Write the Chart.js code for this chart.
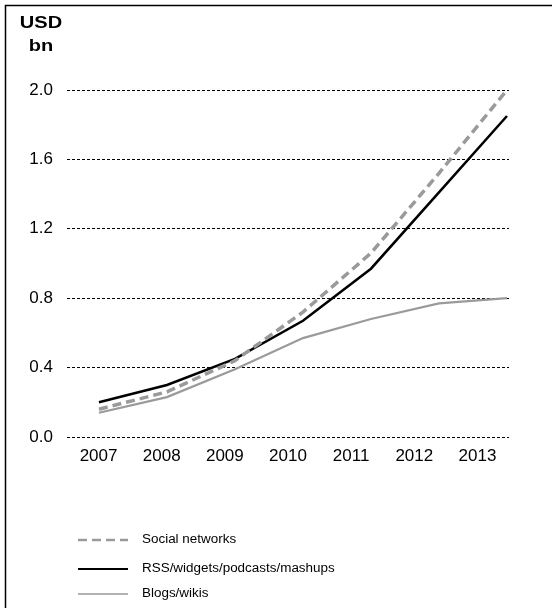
<!DOCTYPE html>
<html>
<head>
<meta charset="utf-8">
<script src="https://cdn.jsdelivr.net/npm/chart.js@4"></script>
<style>
  html, body { margin: 0; padding: 0; background: #fff; }
  #wrap { width: 552px; height: 608px; position: relative; }
</style>
</head>
<body>
<div id="wrap"><canvas id="chart" width="552" height="608"></canvas></div>
<script>
// values (USD bn)
const years = [2007, 2008, 2009, 2010, 2011, 2012, 2013];
const yearLabels = ['2007', '2008', '2009', '2010', '2011', '2012', '2013'];
const socialNetworks = [0.16, 0.26, 0.44, 0.72, 1.06, 1.52, 2.0];
const rssWidgets = [0.20, 0.30, 0.45, 0.67, 0.97, 1.41, 1.85];
const blogsWikis = [0.14, 0.23, 0.39, 0.57, 0.68, 0.77, 0.80];
const yTicks = [0.0, 0.4, 0.8, 1.2, 1.6, 2.0];

const FONT = '"Liberation Sans", Arial, sans-serif';

function toPoints(vals) {
    return vals.map((v, i) => ({ x: years[i], y: v }));
}

// text drawn a bit wider, like the original
function wideText(ctx, txt, x, y, sx) {
    ctx.save();
    ctx.translate(x, y);
    ctx.scale(sx, 1);
    ctx.fillText(txt, 0, 0);
    ctx.restore();
}

// frame, unit title and legend list
const extras = {
    id: 'extras',
    afterDraw(chart) {
        const ctx = chart.ctx;
        ctx.save();
        ctx.strokeStyle = '#000';
        ctx.lineWidth = 1.5;
        ctx.beginPath();
        ctx.moveTo(5.5, 608);
        ctx.lineTo(5.5, 5.5);
        ctx.lineTo(552, 5.5);
        ctx.stroke();

        ctx.fillStyle = '#000';
        ctx.font = 'bold 17px ' + FONT;
        ctx.textAlign = 'center';
        ctx.textBaseline = 'middle';
        wideText(ctx, 'USD', 41, 23, 1.18);
        wideText(ctx, 'bn', 41, 46, 1.18);

        ctx.font = '12px ' + FONT;
        ctx.textAlign = 'left';
        const rows = [540, 569, 594];
        chart.data.datasets.forEach((ds, i) => {
            const y = rows[i];
            ctx.strokeStyle = ds.borderColor;
            ctx.lineWidth = ds.legendWidth;
            ctx.setLineDash(ds.borderDash || []);
            ctx.beginPath();
            ctx.moveTo(78, y);
            ctx.lineTo(128, y);
            ctx.stroke();
            ctx.setLineDash([]);
            ctx.fillStyle = '#000';
            wideText(ctx, ds.label, 142, y, 1.12);
        });
        ctx.restore();
    }
};

new Chart(document.getElementById('chart').getContext('2d'), {
    type: 'line',
    data: {
        datasets: [
            {
                label: 'Social networks',
                data: toPoints(socialNetworks),
                xAxisID: 'xd',
                borderColor: '#9a9a9a',
                borderWidth: 3.5,
                borderDash: [9, 5],
                legendWidth: 2.5,
                pointRadius: 0,
                tension: 0,
                fill: false
            },
            {
                label: 'RSS/widgets/podcasts/mashups',
                data: toPoints(rssWidgets),
                xAxisID: 'xd',
                borderColor: '#000000',
                borderWidth: 2.5,
                legendWidth: 1.8,
                pointRadius: 0,
                tension: 0,
                fill: false
            },
            {
                label: 'Blogs/wikis',
                data: toPoints(blogsWikis),
                xAxisID: 'xd',
                borderColor: '#9a9a9a',
                borderWidth: 2.2,
                legendWidth: 1.5,
                pointRadius: 0,
                tension: 0,
                fill: false
            }
        ]
    },
    options: {
        responsive: false,
        animation: false,
        layout: { padding: { left: 10, right: 43, top: 90, bottom: 141 } },
        plugins: {
            legend: { display: false },
            tooltip: { enabled: false }
        },
        scales: {
            x: {
                type: 'category',
                labels: yearLabels,
                offset: true,
                grid: { display: false, drawTicks: false },
                border: { display: false },
                ticks: {
                    color: '#000',
                    font: { family: FONT, size: 17 },
                    padding: 9,
                    maxRotation: 0,
                    autoSkip: false
                },
                afterFit: s => { s.height = 30; }
            },
            xd: {
                type: 'linear',
                display: false,
                min: 2006.53,
                max: 2013.03
            },
            y: {
                min: 0,
                max: 2.0,
                afterBuildTicks: s => { s.ticks = yTicks.map(v => ({ value: v })); },
                grid: { color: '#000', lineWidth: 1, drawTicks: false },
                border: { display: false, dash: [3, 2] },
                ticks: {
                    color: '#000',
                    font: { family: FONT, size: 17 },
                    padding: 14,
                    callback: v => Number(v).toFixed(1)
                },
                afterFit: s => { s.width = 57; }
            }
        }
    },
    plugins: [extras]
});
</script>
</body>
</html>
